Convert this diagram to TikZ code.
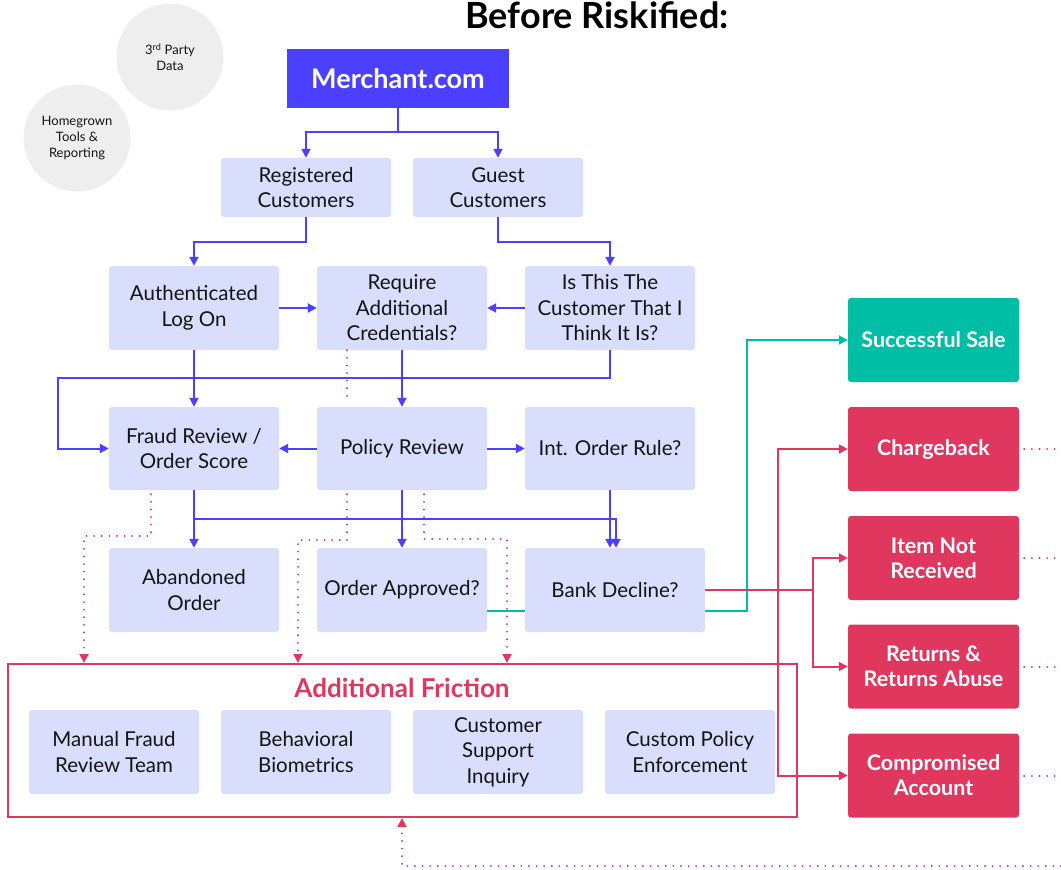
\documentclass[tikz,border=0pt]{standalone}
\usepackage{fontspec}
\setmainfont{Lato}
\usetikzlibrary{arrows.meta,backgrounds}
\definecolor{bblue}{RGB}{75,64,255}
\definecolor{lbox}{RGB}{216,222,252}
\definecolor{tealc}{RGB}{0,190,166}
\definecolor{redc}{RGB}{224,55,95}
\definecolor{grayc}{RGB}{238,238,238}
\definecolor{txt}{RGB}{20,20,20}
\begin{document}
\begin{tikzpicture}[x=1pt,y=-1pt,
  box/.style={fill=lbox, rounded corners=3pt, minimum width=170pt, minimum height=84pt,
    align=center, font=\fontsize{20.5}{25.5}\selectfont, text=txt, inner sep=0pt},
  sbox/.style={box, minimum height=59pt},
  rbox/.style={box, fill=redc, text=white, minimum width=171pt, font=\fontsize{21.5}{25}\selectfont\bfseries},
  gbox/.style={rbox, fill=tealc},
  circ/.style={circle, fill=grayc, minimum size=107pt, inner sep=0pt, align=center,
    font=\fontsize{13}{16}\selectfont, text=txt},
  tip/.style={-{Triangle[length=9pt,width=9pt]}},
  bl/.style={draw=bblue, line width=2pt},
  bla/.style={bl, tip},
  rsol/.style={draw=redc, line width=2pt},
  rsola/.style={rsol, tip},
  tl/.style={draw=tealc, line width=2pt},
  rdot/.style={draw=redc, line width=2pt, line cap=round, dash pattern=on 0.1pt off 7.5pt},
  rdota/.style={rdot, tip}
]
\useasboundingbox (0,0) rectangle (1061,870);

% title
\node[anchor=base, font=\fontsize{36}{36}\selectfont\bfseries, inner sep=0pt] (title) at (597,28) {Before Riskified:};

% circles
\node[circ] (third) at (170,57) {3\textsuperscript{rd} Party\\Data};
\node[circ] (home) at (77,138) {Homegrown\\Tools \&\\Reporting};

% main nodes
\node[fill=bblue, minimum width=222pt, minimum height=59pt, inner sep=0pt, text=white,
  font=\fontsize{27}{27}\selectfont\bfseries] (merchant) at (398,78.5) {Merchant.com};
\node[sbox] (reg) at (306,187.5) {Registered\\Customers};
\node[sbox] (guest) at (498,187.5) {Guest\\Customers};
\node[box] (auth) at (194,308) {Authenticated\\Log On};
\node[box] (req) at (402,308) {Require\\Additional\\Credentials?};
\node[box] (isthis) at (610,308) {Is This The\\Customer That I\\Think It Is?};
\node[box, minimum height=83pt] (fraud) at (194,448.5) {Fraud Review /\\Order Score};
\node[box, minimum height=83pt] (policy) at (402,448.5) {Policy Review};
\node[box, minimum height=83pt] (int) at (610,448.5) {Int. Order Rule?};
\node[box] (aband) at (194,590) {Abandoned\\Order};
\node[box] (approved) at (402,590) {Order Approved?};

% outcome nodes
\node[gbox] (sale) at (933.5,340) {Successful Sale};
\node[rbox] (cb) at (933.5,449) {Chargeback};
\node[rbox] (inr) at (933.5,558) {Item Not\\Received};
\node[rbox] (ret) at (933.5,666.5) {Returns \&\\Returns Abuse};
\node[rbox] (comp) at (933.5,775.5) {Compromised\\Account};

% additional friction
\node[draw=redc, line width=2pt, minimum width=789pt, minimum height=153pt, inner sep=0pt] (fric) at (402.5,740.5) {};
\node[text=redc, font=\fontsize{26}{26}\selectfont\bfseries, inner sep=0pt] (fricl) at (402,688) {Additional Friction};
\node[box] (manual) at (114,752) {Manual Fraud\\Review Team};
\node[box] (behav) at (306,752) {Behavioral\\Biometrics};
\node[box] (cust) at (498,752) {Customer\\Support\\Inquiry};
\node[box] (penf) at (690,752) {Custom Policy\\Enforcement};

% teal connector (behind bank decline)
\coordinate (tk) at (747,611);
\draw[tl, -{Triangle[length=9pt,width=9pt]}] ([yshift=-21pt]approved.east) -- (tk) |- (sale.west);

\node[box, minimum width=180pt] (bank) at (615,590) {Bank Decline?};

% blue connectors
\draw[bla] (merchant.south) -- ++(0,24) -| (reg.north);
\draw[bla] (merchant.south) -- ++(0,24) -| (guest.north);
\draw[bla] (reg.south) -- ++(0,25) -| (auth.north);
\draw[bla] (guest.south) -- ++(0,25) -| (isthis.north);
\draw[bla] (auth.east) -- (req.west);
\draw[bla] (isthis.west) -- (req.east);
\draw[bla] (auth.south) -- (fraud.north);
\draw[bla] (req.south) -- (policy.north);
\coordinate (lp) at (58,378);
\draw[bla] (isthis.south) |- (lp) |- (fraud.west);
\draw[bla] (policy.west) -- (fraud.east);
\draw[bla] (policy.east) -- (int.west);
\draw[bla] (fraud.south) -- (aband.north);
\draw[bla] (fraud.south) -- ++(0,29) -| ([xshift=1pt]bank.north);
\draw[bla] (int.south) -- (int.south |- bank.north);
\draw[bla] (policy.south) -- (approved.north);

% red dotted connectors
\draw[rdot] ([xshift=-55pt]req.south) -- ([xshift=-55pt,yshift=4pt]policy.north);
\draw[rdota] ([xshift=-43pt,yshift=-4pt]fraud.south) -- ++(0,42) -| ([xshift=77pt]fric.north west);
\draw[rdota] ([xshift=-55pt,yshift=-4pt]policy.south) -- ++(0,46) -| ([xshift=291pt]fric.north west);
\draw[rdota] ([xshift=22pt,yshift=-4pt]policy.south) -- ++(0,45) -| ([xshift=500pt]fric.north west);
\coordinate (br) at (1061,866);
\draw[rdota] (br) -| ([xshift=395pt]fric.south west);
\coordinate (e1) at (1061,449);
\coordinate (e2) at (1061,558);
\coordinate (e3) at (1061,666.5);
\coordinate (e4) at (1061,775.5);
\draw[rdot] ([xshift=5pt]cb.east) -- (e1);
\draw[rdot] ([xshift=5pt]inr.east) -- (e2);
\draw[rdot] ([xshift=5pt]ret.east) -- (e3);
\draw[rdot] ([xshift=5pt]comp.east) -- (e4);

% red solid connectors
\draw[rsol] (bank.east) -- ++(108,0) coordinate (rj);
\draw[rsola] (rj) |- (inr.west);
\draw[rsola] (rj) |- (ret.west);
\coordinate (rv) at (778,590);
\draw[rsola] (rv) |- (cb.west);
\draw[rsola] (rv) |- (comp.west);
\end{tikzpicture}
\end{document}
